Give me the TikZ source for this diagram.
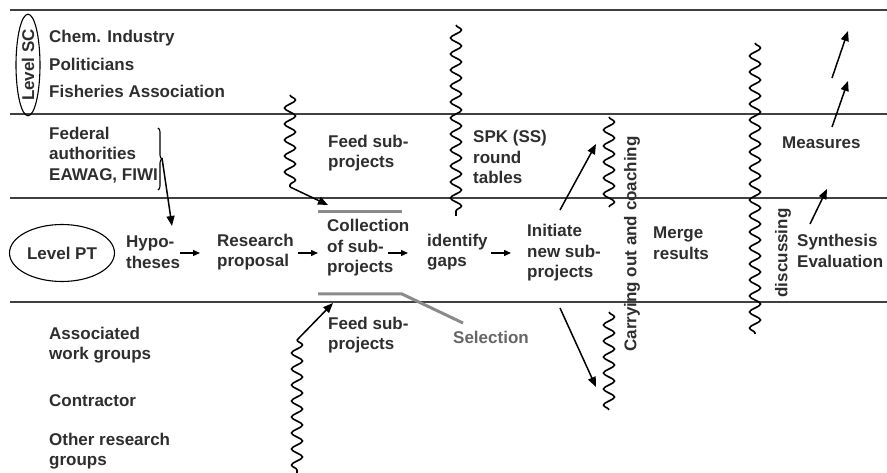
\documentclass[tikz,border=0pt]{standalone}
\usepackage{fontspec}
\setmainfont{Liberation Sans}
\usetikzlibrary{arrows.meta,shapes.geometric,decorations.pathmorphing,decorations.pathreplacing}
\definecolor{ink}{HTML}{2E2E2E}
\definecolor{selgray}{HTML}{8A8A8A}
\definecolor{seltext}{HTML}{666666}
\begin{document}
\begin{tikzpicture}[x=1pt,y=-1pt,
  lbl/.style={font=\fontsize{17}{20.5}\selectfont\bfseries, text=ink, inner sep=0pt, anchor=west, align=left},
  band/.style={line width=1.3pt, draw=black!75},
  lvl/.style={ellipse, draw, line width=1.1pt, inner sep=0pt, font=\fontsize{17}{20.5}\selectfont\bfseries, text=ink},
  wave/.style={decorate, decoration={snake, segment length=16pt, amplitude=5.5pt}, line width=1.6pt},
  flow/.style={-{Triangle[length=10pt,width=8pt]}, line width=1.5pt},
  short/.style={-{Triangle[length=7pt,width=6pt]}, line width=1.3pt},
  selbar/.style={line width=3pt, draw=selgray}]
\useasboundingbox (0,0) rectangle (887,473);

% level bands
\draw[band] (10,10) -- (887,10);
\draw[band] (10,114) -- (887,114);
\draw[band] (10,198) -- (887,198);
\draw[band] (10,302) -- (887,302);

% level markers
\node[lvl, rotate=90, minimum width=96pt, minimum height=24pt] (sc) at (28,65) {Level SC};
\node[lvl, minimum width=105pt, minimum height=57pt] (pt) at (62,253) {Level PT};

% actors, upper level
\node[lbl] (chem) at (49,38) {Chem. Industry};
\node[lbl] (pol) at (49,64) {Politicians};
\node[lbl] (fish) at (49,91) {Fisheries Association};
\node[lbl] (fed) at (49,155) {Federal\\authorities\\EAWAG, FIWI};

% actors, lower level
\node[lbl] (assoc) at (49,345) {Associated\\work groups};
\node[lbl] (contr) at (49,401) {Contractor};
\node[lbl] (other) at (49,451) {Other research\\groups};

% process steps
\node[lbl] (hyp) at (126,252) {Hypo-\\theses};
\node[lbl] (res) at (217,252) {Research\\proposal};
\node[lbl] (coll) at (327,248) {Collection\\of sub-\\projects};
\node[lbl] (gaps) at (427,252) {identify\\gaps};
\node[lbl] (init) at (527,253) {Initiate\\new sub-\\projects};
\node[lbl] (merge) at (653,243) {Merge\\results};
\node[lbl] (synth) at (797,251) {Synthesis\\Evaluation};

% side labels
\node[lbl] (feedup) at (328,153) {Feed sub-\\projects};
\node[lbl] (feedlow) at (328,335) {Feed sub-\\projects};
\node[lbl] (spk) at (473,157) {SPK (SS)\\round\\tables};
\node[lbl] (meas) at (782,143) {Measures};
\node[lbl, text=seltext] (sel) at (453,337) {Selection};
\node[lbl, rotate=90, anchor=center] (carry) at (632,244) {Carrying out and coaching};
\node[lbl, rotate=90, anchor=center] (disc) at (783,253) {discussing};

% selection bars around the collection step
\coordinate (selpt) at (463,323);
\draw[selbar] (318,212) -- (402,212);
\draw[selbar] (318,294) -- (402,294) -- (selpt);

% brace grouping the federal actors
\draw[line width=1.1pt, decorate, decoration={brace, amplitude=4pt}] (158,128) -- (158,190);

% wavy phase boundaries
\draw[wave] (290,95) -- (290,187) coordinate (w1end);
\draw[wave] (297,340) coordinate (w2top) -- (297,476);
\draw[wave] (456,25) -- (456,216);
\draw[wave] (609,117) -- (609,207);
\draw[wave] (609,312) -- (609,410);
\draw[wave] (755,43) -- (755,334);

% arrow end points
\coordinate (bracetip) at (162,158);
\coordinate (hyptop) at (172,226);
\coordinate (a1s) at (180,253); \coordinate (a1e) at (200,253);
\coordinate (a2s) at (298,253); \coordinate (a2e) at (318,253);
\coordinate (a3s) at (388,253); \coordinate (a3e) at (408,253);
\coordinate (a4s) at (491,253); \coordinate (a4e) at (511,253);
\coordinate (collin) at (328,205);
\coordinate (collin2) at (333,303);
\coordinate (initup) at (560,210); \coordinate (initupend) at (596,144);
\coordinate (initdn) at (560,308); \coordinate (initdnend) at (596,387);
\coordinate (synup) at (810,224); \coordinate (synupend) at (827,189);
\coordinate (m1s) at (832,127); \coordinate (m1e) at (848,81);
\coordinate (m2s) at (832,78); \coordinate (m2e) at (848,31);

% connectors
\draw[flow] (bracetip) -- (hyptop);
\draw[short] (a1s) -- (a1e);
\draw[short] (a2s) -- (a2e);
\draw[short] (a3s) -- (a3e);
\draw[short] (a4s) -- (a4e);
\draw[flow] (w1end) -- (collin);
\draw[flow] (w2top) -- (collin2);
\draw[flow] (initup) -- (initupend);
\draw[flow] (initdn) -- (initdnend);
\draw[flow] (synup) -- (synupend);
\draw[flow] (m1s) -- (m1e);
\draw[flow] (m2s) -- (m2e);
\end{tikzpicture}
\end{document}
